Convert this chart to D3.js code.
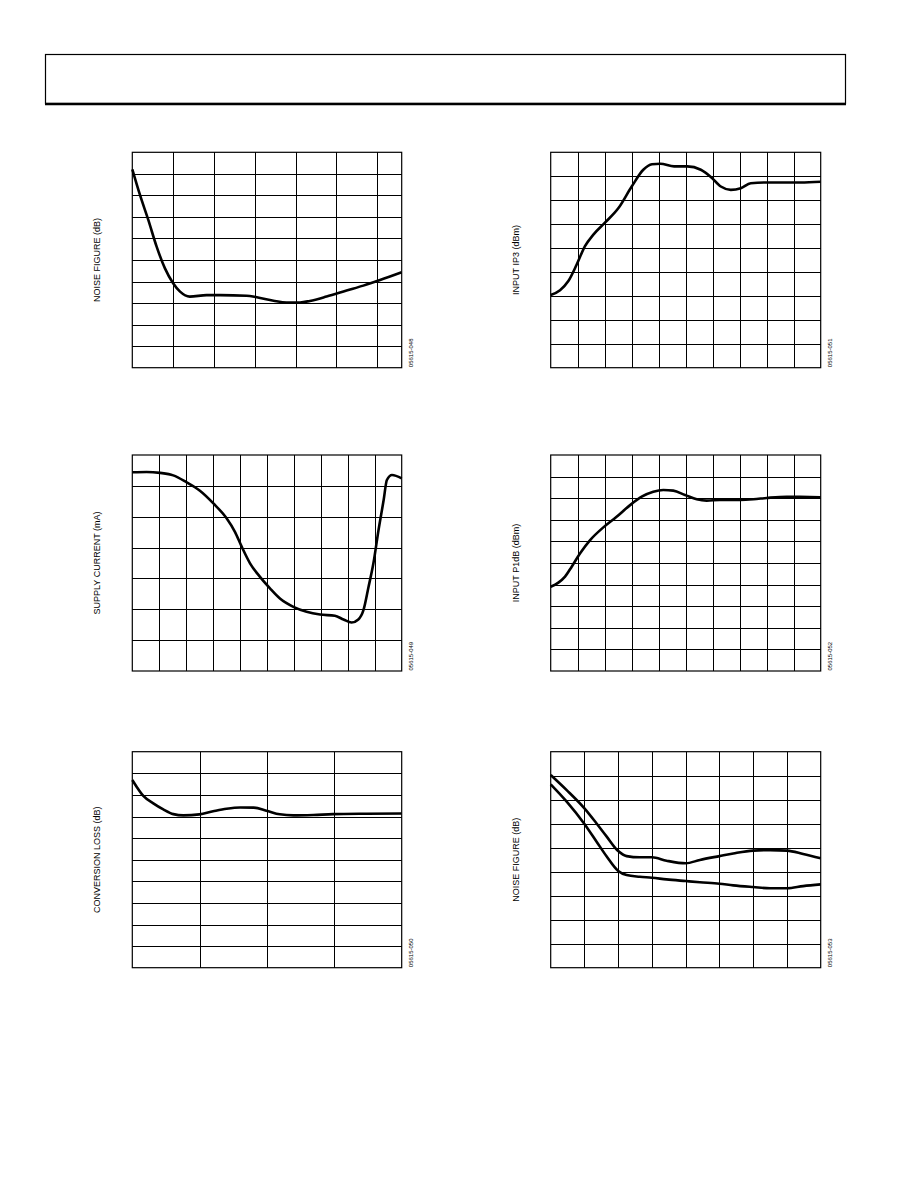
<!DOCTYPE html>
<html lang="en">
<head>
    <meta charset="UTF-8">
    <title>Typical performance characteristics</title>
    <script src="https://d3js.org/d3.v7.min.js"></script>
    <style>
        body {
            margin: 0;
            background: #fff;
        }
        svg {
            display: block;
            font-family: "Liberation Sans", Arial, sans-serif;
        }
    </style>
</head>
<body>
<div id="chart"></div>

<script>
    // ---- data ----

    // noise figure (dB) vs frequency
    var nfFreq = [0, 94, 196, 298, 400, 500, 585, 705, 910, 1075, 1400, 1525, 1730, 1890, 2055, 2175, 2380, 2625, 2830, 3035, 3300];
    var nfValues = [18.42, 16.04, 13.72, 11.24, 9.22, 7.84, 7.06, 6.6, 6.74, 6.74, 6.68, 6.54, 6.22, 6.06, 6.06, 6.2, 6.6, 7.16, 7.62, 8.14, 8.86];

    // input IP3 (dBm)
    var ip3X = [0, 34.6, 65.4, 96.3, 127, 158, 200, 251, 300, 343, 375, 406, 457, 506, 556, 593, 630, 667, 704, 741, 802, 926, 1000];
    var ip3Values = [0.2, 1.2, 3.1, 6.55, 10.4, 12.8, 15.25, 18.35, 22.85, 26.35, 27.5, 27.6, 27.05, 27.05, 26.35, 24.85, 22.85, 22.15, 22.5, 23.55, 23.7, 23.7, 23.85];

    // supply current (mA)
    var currentX = [0, 5.3, 10.3, 15.2, 20.2, 25.1, 30.1, 35.0, 38.1, 40.6, 43.7, 47.4, 51.1, 54.8, 59.8, 64.7, 69.7, 75.2, 78.4, 81.4, 83.9, 85.8, 87.7, 89.5, 91.4, 93.3, 94.5, 96.4, 100];
    var currentValues = [92.2, 92.25, 92.1, 91.7, 90.55, 89.2, 87.15, 84.75, 82.55, 80.15, 77.45, 75.25, 73.4, 71.75, 70.4, 69.6, 69.15, 68.95, 68.35, 67.85, 68.35, 69.85, 73.65, 77.45, 82.85, 87.7, 90.95, 91.75, 91.2];

    // input P1dB (dBm)
    var p1dbX = [0, 2.84, 5.31, 7.78, 10.9, 14.6, 19.5, 24.4, 29.4, 33.7, 38.0, 41.7, 45.4, 49.75, 54.1, 57.8, 62.7, 70.1, 75.1, 80.0, 87.4, 92.3, 100];
    var p1dbValues = [-2.2, -1.82, -1.26, -0.34, 0.9, 2.12, 3.3, 4.28, 5.36, 6.14, 6.6, 6.76, 6.7, 6.3, 5.9, 5.78, 5.84, 5.84, 5.9, 6.02, 6.14, 6.12, 6.08];

    // conversion loss (dB)
    var lossFreq = [1000, 1032, 1082, 1156, 1230, 1305, 1379, 1498, 1600, 1700, 1800, 1900, 1995, 2095, 2195, 2345, 2490, 2740, 3000];
    var lossValues = [8.69, 8.38, 7.95, 7.61, 7.33, 7.11, 7.05, 7.1, 7.24, 7.36, 7.42, 7.41, 7.27, 7.1, 7.05, 7.07, 7.11, 7.13, 7.14];

    // noise figure (dB), two conditions
    var nf2X = [0, 23.7, 50, 68, 83, 100, 112.5, 132, 150, 171.5, 200, 221, 250, 270.5, 300, 325, 350, 374, 400];
    var nf2Upper = [16.06, 14.8, 13.28, 12.02, 10.92, 9.72, 9.3, 9.2, 9.2, 8.92, 8.7, 8.98, 9.3, 9.52, 9.76, 9.8, 9.76, 9.48, 9.12];
    var nf2Lower = [15.28, 13.84, 11.98, 10.5, 9.26, 8.06, 7.72, 7.58, 7.5, 7.36, 7.22, 7.12, 7.0, 6.86, 6.72, 6.62, 6.62, 6.8, 6.94];

    // ---- layout ----
    var W = 918, H = 1188;
    var colL = [132.3, 401.7], colR = [550.7, 820.7];
    var row1 = [152.3, 367.7], row2 = [455, 671], row3 = [751.7, 967.7];

    function zip(xs, ys) {
        return xs.map(function (x, i) { return [x, ys[i]]; });
    }

    var panels = [
        {xr: colL, yr: row1, xd: [0, 3300], xstep: 500, yd: [0, 20], ystep: 2,
         label: 'NOISE FIGURE (dB)', labelX: 97, code: '05615-048',
         series: [zip(nfFreq, nfValues)]},
        {xr: colR, yr: row1, xd: [0, 1000], xstep: 100, yd: [-15, 30], ystep: 5,
         label: 'INPUT IP3 (dBm)', labelX: 516, code: '05615-051',
         series: [zip(ip3X, ip3Values)]},
        {xr: colL, yr: row2, xd: [0, 100], xstep: 10, yd: [60, 95], ystep: 5,
         label: 'SUPPLY CURRENT (mA)', labelX: 97, code: '05615-049',
         series: [zip(currentX, currentValues)]},
        {xr: colR, yr: row2, xd: [0, 100], xstep: 10, yd: [-10, 10], ystep: 2,
         label: 'INPUT P1dB (dBm)', labelX: 516, code: '05615-052',
         series: [zip(p1dbX, p1dbValues)]},
        {xr: colL, yr: row3, xd: [1000, 3000], xstep: 500, yd: [0, 10], ystep: 1,
         label: 'CONVERSION LOSS (dB)', labelX: 97, code: '05615-050',
         series: [zip(lossFreq, lossValues)]},
        {xr: colR, yr: row3, xd: [0, 400], xstep: 50, yd: [0, 18], ystep: 2,
         label: 'NOISE FIGURE (dB)', labelX: 516, code: '05615-053',
         series: [zip(nf2X, nf2Upper), zip(nf2X, nf2Lower)]}
    ];

    var svg = d3.select('#chart')
                .append('svg')
                .attr('width', W)
                .attr('height', H);

    // header box
    svg.append('rect')
        .attr('x', 45.5).attr('y', 54.5)
        .attr('width', 800).attr('height', 49)
        .attr('fill', 'none')
        .attr('stroke', '#000')
        .attr('stroke-width', 1.2);
    svg.append('line')
        .attr('x1', 45).attr('x2', 846)
        .attr('y1', 104).attr('y2', 104)
        .attr('stroke', '#000')
        .attr('stroke-width', 2.5);

    panels.forEach(function (p) {
        var x = d3.scaleLinear().domain(p.xd).range(p.xr);
        var y = d3.scaleLinear().domain(p.yd).range([p.yr[1], p.yr[0]]);
        var innerW = p.xr[1] - p.xr[0];
        var innerH = p.yr[1] - p.yr[0];

        var g = svg.append('g');

        // grid from axes
        var xTicks = d3.range(p.xd[0] + p.xstep, p.xd[1] - 1e-6, p.xstep);
        var yTicks = d3.range(p.yd[0] + p.ystep, p.yd[1] - 1e-6, p.ystep);

        g.append('g')
            .attr('class', 'grid')
            .attr('transform', 'translate(0,' + p.yr[1] + ')')
            .call(d3.axisBottom(x).tickValues(xTicks).tickSize(-innerH).tickFormat(''));
        g.append('g')
            .attr('class', 'grid')
            .attr('transform', 'translate(' + p.xr[0] + ',0)')
            .call(d3.axisLeft(y).tickValues(yTicks).tickSize(-innerW).tickFormat(''));

        g.selectAll('.grid .domain').remove();
        g.selectAll('.grid line')
            .attr('stroke', '#000')
            .attr('stroke-width', 1)
            .attr('shape-rendering', 'crispEdges');

        // frame
        g.append('rect')
            .attr('x', p.xr[0]).attr('y', p.yr[0])
            .attr('width', innerW).attr('height', innerH)
            .attr('fill', 'none')
            .attr('stroke', '#000')
            .attr('stroke-width', 1.2);

        // curves
        var line = d3.line()
            .x(function (d) { return x(d[0]); })
            .y(function (d) { return y(d[1]); })
            .curve(d3.curveMonotoneX);

        p.series.forEach(function (s) {
            g.append('path')
                .datum(s)
                .attr('d', line)
                .attr('fill', 'none')
                .attr('stroke', '#000')
                .attr('stroke-width', 2.6)
                .attr('stroke-linejoin', 'round');
        });

        // y label
        var cy = (p.yr[0] + p.yr[1]) / 2;
        g.append('text')
            .attr('transform', 'translate(' + p.labelX + ',' + cy + ') rotate(-90)')
            .attr('text-anchor', 'middle')
            .attr('dominant-baseline', 'central')
            .attr('font-size', '9px')
            .text(p.label);

        // figure code
        g.append('text')
            .attr('transform', 'translate(' + (p.xr[1] + 9.5) + ',' + (p.yr[1] - 0.5) + ') rotate(-90)')
            .attr('text-anchor', 'start')
            .attr('dominant-baseline', 'central')
            .attr('font-size', '6px')
            .text(p.code);
    });
</script>
</body>
</html>
